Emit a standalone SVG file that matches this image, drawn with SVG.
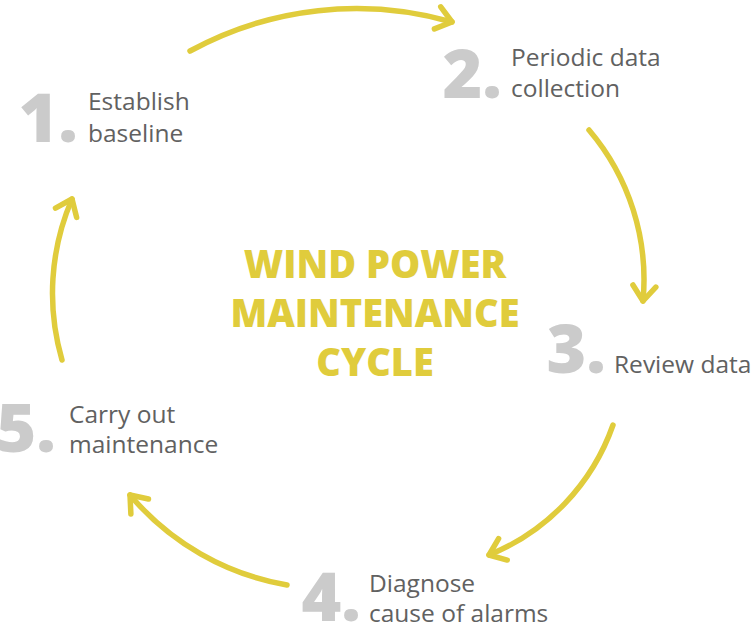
<svg xmlns="http://www.w3.org/2000/svg" width="752" height="627" viewBox="0 0 752 627">
  <defs>
    <marker id="chev" markerUnits="userSpaceOnUse" orient="auto" refX="0" refY="0" markerWidth="40" markerHeight="40" viewBox="-20 -20 40 40" overflow="visible">
      <path d="M-15,-11.5 L0,0 L-15,11.5" fill="none" stroke="#e0cc3c" stroke-width="5.5" stroke-linecap="round" stroke-linejoin="round"/>
    </marker>
    <style>
      .arrow { fill: none; stroke: #e0cc3c; stroke-width: 5.5; stroke-linecap: round; marker-end: url(#chev); }
      .num { font-family: "Open Sans", "Noto Sans", sans-serif; font-weight: 800; font-size: 68px; fill: #cbcbcb; text-anchor: end; }
      .lbl { font-family: "Open Sans", "Noto Sans", sans-serif; font-weight: 400; font-size: 24.5px; fill: #616161; }
      .title { font-family: "Open Sans", "Noto Sans", sans-serif; font-weight: 800; font-size: 38px; fill: #e0cc3c; text-anchor: middle; }
    </style>
  </defs>
  <rect width="752" height="627" fill="#ffffff"/>

  <g id="connectors">
    <path class="arrow" d="M190,51 A347,347 0 0 1 452,22"/>
    <path class="arrow" d="M589,130 A231,231 0 0 1 643,301"/>
    <path class="arrow" d="M613,425 A218,218 0 0 1 489,555"/>
    <path class="arrow" d="M287,585 A264,264 0 0 1 130,495"/>
    <path class="arrow" d="M62,360 A238,238 0 0 1 72,199"/>
  </g>

  <g id="title">
    <text class="title" x="375" y="278">WIND POWER</text>
    <text class="title" x="375" y="327">MAINTENANCE</text>
    <text class="title" x="375" y="376">CYCLE</text>
  </g>

  <g id="step1">
    <text class="num" x="78" y="142">1.</text>
    <text class="lbl" x="88" y="110">Establish</text>
    <text class="lbl" x="88" y="142">baseline</text>
  </g>
  <g id="step2">
    <text class="num" x="502" y="98">2.</text>
    <text class="lbl" x="511" y="66">Periodic data</text>
    <text class="lbl" x="511" y="97">collection</text>
  </g>
  <g id="step3">
    <text class="num" x="606" y="373">3.</text>
    <text class="lbl" x="614" y="373">Review data</text>
  </g>
  <g id="step4">
    <text class="num" x="361" y="621">4.</text>
    <text class="lbl" x="369" y="592">Diagnose</text>
    <text class="lbl" x="369" y="622">cause of alarms</text>
  </g>
  <g id="step5">
    <text class="num" x="56" y="452">5.</text>
    <text class="lbl" x="69" y="423">Carry out</text>
    <text class="lbl" x="69" y="453">maintenance</text>
  </g>
</svg>
